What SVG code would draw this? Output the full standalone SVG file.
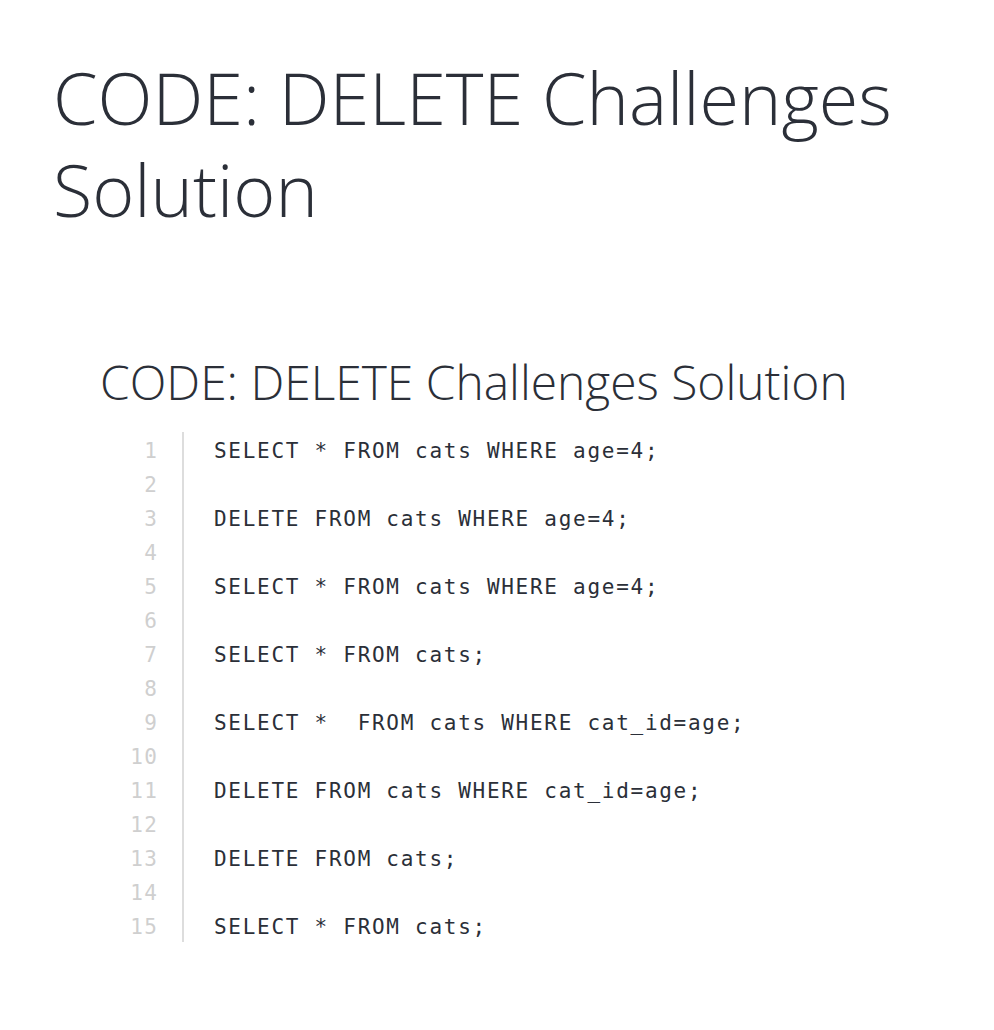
<svg xmlns="http://www.w3.org/2000/svg" width="994" height="1030" viewBox="0 0 994 1030">
<style>
.h1{font-family:"Open Sans","Liberation Sans",sans-serif;font-weight:300;font-size:71.9px;fill:#2b2f38}
.h2{font-family:"Open Sans","Liberation Sans",sans-serif;font-weight:300;font-size:47.9px;fill:#2b2f38}
.code{font-family:"DejaVu Sans Mono","Liberation Mono",monospace;font-size:21px;letter-spacing:1.72px;fill:#2b2f38;white-space:pre}
.ln{font-family:"DejaVu Sans Mono","Liberation Mono",monospace;font-size:21px;letter-spacing:1.2px;fill:#cfcfcf;text-anchor:end}
</style>
<rect width="994" height="1030" fill="#ffffff"/>
<g id="title">
<text class="h1" x="53" y="125">CODE: DELETE Challenges</text>
<text class="h1" x="53" y="217">Solution</text>
</g>
<g id="code-block">
<text class="h2" x="100" y="400">CODE: DELETE Challenges Solution</text>
<line x1="183" y1="432" x2="183" y2="942" stroke="#dddddd" stroke-width="2"/>
<g class="ln">
<text x="158" y="458">1</text>
<text x="158" y="492">2</text>
<text x="158" y="526">3</text>
<text x="158" y="560">4</text>
<text x="158" y="594">5</text>
<text x="158" y="628">6</text>
<text x="158" y="662">7</text>
<text x="158" y="696">8</text>
<text x="158" y="730">9</text>
<text x="158" y="764">10</text>
<text x="158" y="798">11</text>
<text x="158" y="832">12</text>
<text x="158" y="866">13</text>
<text x="158" y="900">14</text>
<text x="158" y="934">15</text>
</g>
<g class="code">
<text x="214" y="458">SELECT * FROM cats WHERE age=4;</text>
<text x="214" y="526">DELETE FROM cats WHERE age=4;</text>
<text x="214" y="594">SELECT * FROM cats WHERE age=4;</text>
<text x="214" y="662">SELECT * FROM cats;</text>
<text x="214" y="730" xml:space="preserve">SELECT *  FROM cats WHERE cat_id=age;</text>
<text x="214" y="798">DELETE FROM cats WHERE cat_id=age;</text>
<text x="214" y="866">DELETE FROM cats;</text>
<text x="214" y="934">SELECT * FROM cats;</text>
</g>
</g>
</svg>
